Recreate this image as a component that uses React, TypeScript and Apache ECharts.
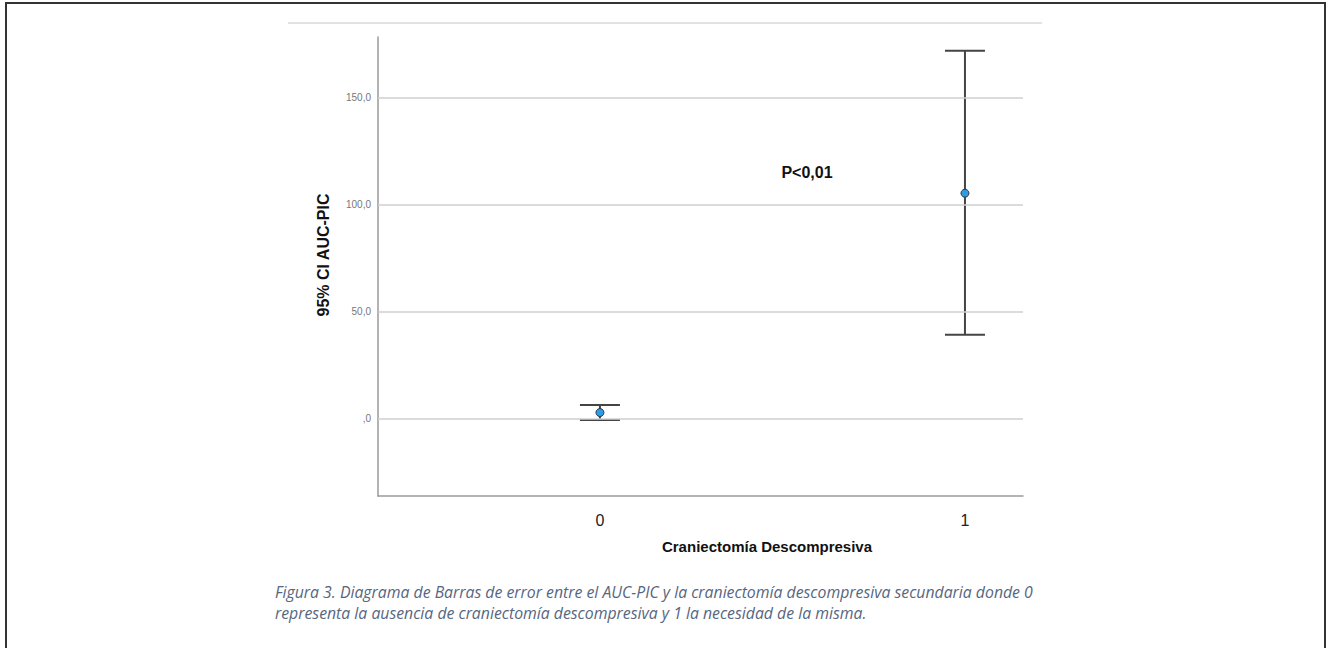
import React, { useEffect, useRef } from "react";
import * as echarts from "echarts";

const categories = ["0", "1"];
const categoryX = [0, 1];
const means = [3.0, 105.5];
const lowerCI = [-0.5, 39.3];
const upperCI = [6.5, 172.1];
const yTicks = [0, 50, 100, 150];
const xTicks = [0, 1];
const yTitle = "95% CI AUC-PIC";
const xTitle = "Craniectomía Descompresiva";
const annotation = "P<0,01";
const captionLines = [
  "Figura 3. Diagrama de Barras de error entre el AUC-PIC y la craniectomía descompresiva secundaria donde 0",
  "representa la ausencia de craniectomía descompresiva y 1 la necesidad de la misma.",
];

function fmt(v: number): string {
  const s = v.toFixed(1).replace(".", ",");
  return s.startsWith("0,") ? s.slice(1) : s;
}

export default function App() {
  const ref = useRef<HTMLDivElement>(null);
  useEffect(() => {
    if (!ref.current) return;
    const chart = echarts.init(ref.current, null, { renderer: "svg" });
    const errData = categoryX.map((x, i) => [x, lowerCI[i], upperCI[i]]);
    const meanData = categoryX.map((x, i) => [x, means[i]]);
    chart.setOption({
      animation: false,
      backgroundColor: "#ffffff",
      grid: { left: 378, top: 37, width: 645, height: 459, containLabel: false },
      xAxis: {
        type: "value",
        min: -0.608,
        max: 1.159,
        splitLine: { show: false },
        axisTick: { show: false },
        axisLine: { onZero: false, lineStyle: { color: "#9a9a9a", width: 1.5 } },
        axisLabel: {
          customValues: xTicks,
          formatter: (v: number) => categories[Math.round(v)] ?? "",
          color: "#222",
          fontSize: 16,
          fontFamily: "Liberation Sans",
          margin: 16,
        },
      },
      yAxis: {
        type: "value",
        min: -36,
        max: 178.5,
        splitLine: { show: false },
        axisTick: { show: false },
        axisLine: { show: true, onZero: false, lineStyle: { color: "#9a9a9a", width: 1.5 } },
        axisLabel: {
          customValues: yTicks,
          formatter: (v: number) => fmt(v),
          color: "#777",
          fontSize: 10,
          fontFamily: "Liberation Sans",
          margin: 7,
        },
      },
      series: [
        {
          type: "line",
          data: [],
          silent: true,
          markLine: {
            silent: true,
            symbol: "none",
            label: { show: false },
            lineStyle: { color: "#cfcfcf", width: 1.5, type: "solid" },
            data: yTicks.map((v) => ({ yAxis: v })),
          },
        },
        {
          type: "custom",
          data: errData,
          z: 3,
          renderItem: (params: any, api: any) => {
            const x = api.value(0);
            const lo = api.coord([x, api.value(1)]);
            const hi = api.coord([x, api.value(2)]);
            const hw = 20;
            const style = { stroke: "#444", lineWidth: 2 };
            return {
              type: "group",
              children: [
                { type: "line", shape: { x1: lo[0], y1: lo[1], x2: hi[0], y2: hi[1] }, style },
                { type: "line", shape: { x1: hi[0] - hw, y1: hi[1], x2: hi[0] + hw, y2: hi[1] }, style },
                { type: "line", shape: { x1: lo[0] - hw, y1: lo[1], x2: lo[0] + hw, y2: lo[1] }, style },
              ],
            };
          },
        },
        {
          type: "scatter",
          data: meanData,
          z: 5,
          symbol: "circle",
          symbolSize: 8,
          itemStyle: { color: "#2f9be3", borderColor: "#2a3a4a", borderWidth: 1, opacity: 1 },
        },
      ],
      graphic: [
        {
          type: "rect",
          shape: { x: 6, y: 3, width: 1319, height: 660 },
          style: { fill: "none", stroke: "#333", lineWidth: 2 },
          silent: true,
        },
        {
          type: "line",
          shape: { x1: 288, y1: 23, x2: 1042, y2: 23 },
          style: { stroke: "#e2e2e2", lineWidth: 2 },
          silent: true,
        },
        {
          type: "text",
          x: 323,
          y: 255,
          rotation: Math.PI / 2,
          style: {
            text: yTitle,
            font: "bold 16px 'Liberation Sans', Arial",
            fill: "#111",
            align: "center",
            verticalAlign: "middle",
          },
        },
        {
          type: "text",
          x: 767,
          y: 546,
          style: {
            text: xTitle,
            font: "bold 15px 'Liberation Sans', Arial",
            fill: "#111",
            align: "center",
            verticalAlign: "middle",
          },
        },
        {
          type: "text",
          x: 807,
          y: 172,
          style: {
            text: annotation,
            font: "bold 16px 'Liberation Sans', Arial",
            fill: "#111",
            align: "center",
            verticalAlign: "middle",
          },
        },
        ...captionLines.map((t, i) => ({
          type: "text",
          x: 275,
          y: 592 + i * 21,
          style: {
            text: t,
            font: "italic 15.8px 'Open Sans'",
            fill: "#56667f",
            align: "left",
            verticalAlign: "middle",
          },
        })),
      ],
    });
    return () => chart.dispose();
  }, []);
  return (
    <div
      ref={ref}
      style={{ position: "fixed", left: 0, top: 0, width: 1328, height: 648, background: "#fff" }}
    />
  );
}
